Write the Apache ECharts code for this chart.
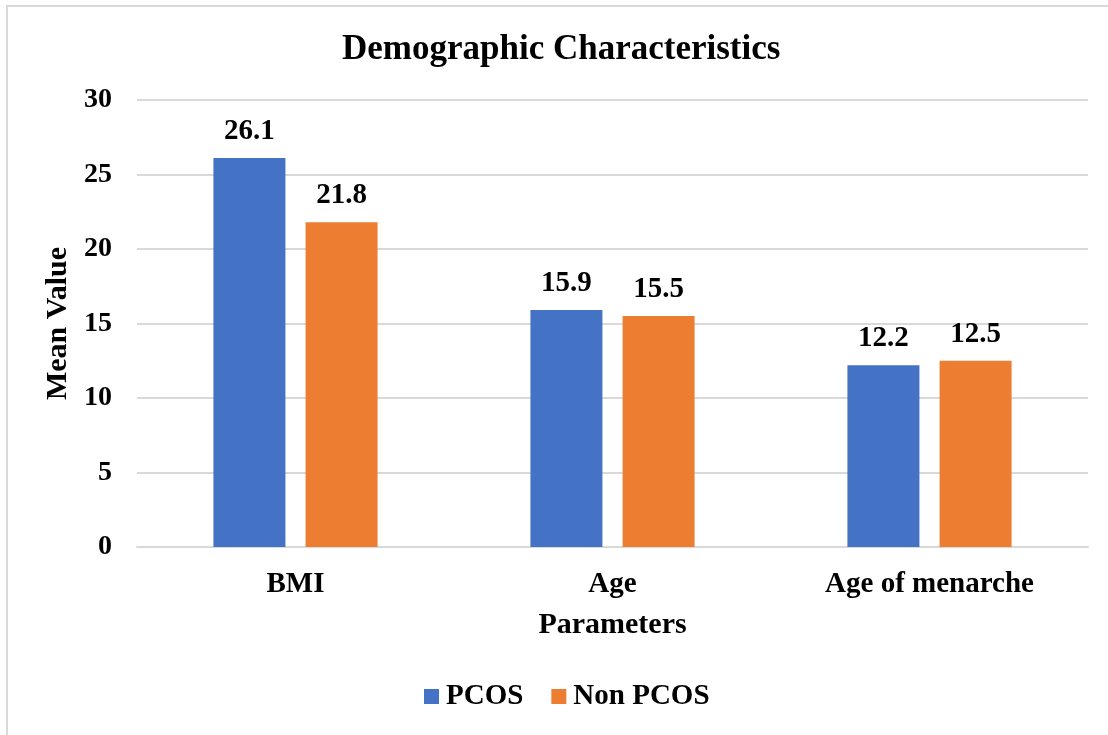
<!DOCTYPE html>
<html>
<head>
<meta charset="utf-8">
<script src="https://cdn.jsdelivr.net/npm/echarts@6/dist/echarts.min.js"></script>
<style>
html,body{margin:0;padding:0;background:#fff;}
#c{width:1108px;height:735px;}
</style>
</head>
<body>
<div id="c"></div>
<script>
const categories = ['BMI', 'Age', 'Age of menarche'];
const pcos = [26.1, 15.9, 12.2];
const nonPcos = [21.8, 15.5, 12.5];
const yTicks = [0, 5, 10, 15, 20, 25, 30];

const FONT = '"Liberation Serif", "Times New Roman", serif';
const chart = echarts.init(document.getElementById('c'));
const labelStyle = {show: true, position: 'top', distance: 12, fontFamily: FONT, fontWeight: 'bold', fontSize: 29, color: '#000'};
chart.setOption({
  animation: false,
  backgroundColor: '#fff',
  graphic: [{
    type: 'rect', shape: {x: 7, y: 6, width: 1300, height: 900},
    style: {fill: 'none', stroke: '#d9d9d9', lineWidth: 2}, silent: true
  }],
  title: {
    text: 'Demographic Characteristics', left: 342, top: 32, padding: 0,
    textStyle: {fontFamily: FONT, fontWeight: 'bold', fontSize: 35, color: '#000'}
  },
  legend: {
    bottom: 19, left: 419, itemWidth: 15, itemHeight: 15, itemGap: 28, icon: 'rect',
    textStyle: {fontFamily: FONT, fontWeight: 'bold', fontSize: 29, color: '#000', padding: [0, 0, 0, 2]},
    data: ['PCOS', 'Non PCOS']
  },
  grid: {left: 137, right: 20, top: 100, bottom: 188},
  xAxis: {
    type: 'category', data: categories,
    name: 'Parameters', nameLocation: 'middle', nameGap: 63,
    nameTextStyle: {fontFamily: FONT, fontWeight: 'bold', fontSize: 30, color: '#000'},
    axisLine: {lineStyle: {color: '#d9d9d9', width: 2}},
    axisTick: {show: false},
    axisLabel: {fontFamily: FONT, fontWeight: 'bold', fontSize: 29, color: '#000', margin: 23}
  },
  yAxis: {
    type: 'value', min: 0, max: 30, interval: 5,
    name: 'Mean Value', nameLocation: 'middle', nameGap: 57,
    nameTextStyle: {fontFamily: FONT, fontWeight: 'bold', fontSize: 30, color: '#000'},
    axisLine: {show: false}, axisTick: {show: false},
    splitLine: {lineStyle: {color: '#d9d9d9', width: 2}},
    axisLabel: {fontFamily: FONT, fontWeight: 'bold', fontSize: 28, color: '#000', margin: 25,
      formatter: v => yTicks.includes(v) ? String(v) : ''}
  },
  series: [
    {name: 'PCOS', type: 'bar', data: pcos, barWidth: 72, barGap: '28%', itemStyle: {color: '#4472C4'}, label: labelStyle},
    {name: 'Non PCOS', type: 'bar', data: nonPcos, barWidth: 72, itemStyle: {color: '#ED7D31'}, label: labelStyle}
  ]
});
</script>
</body>
</html>
